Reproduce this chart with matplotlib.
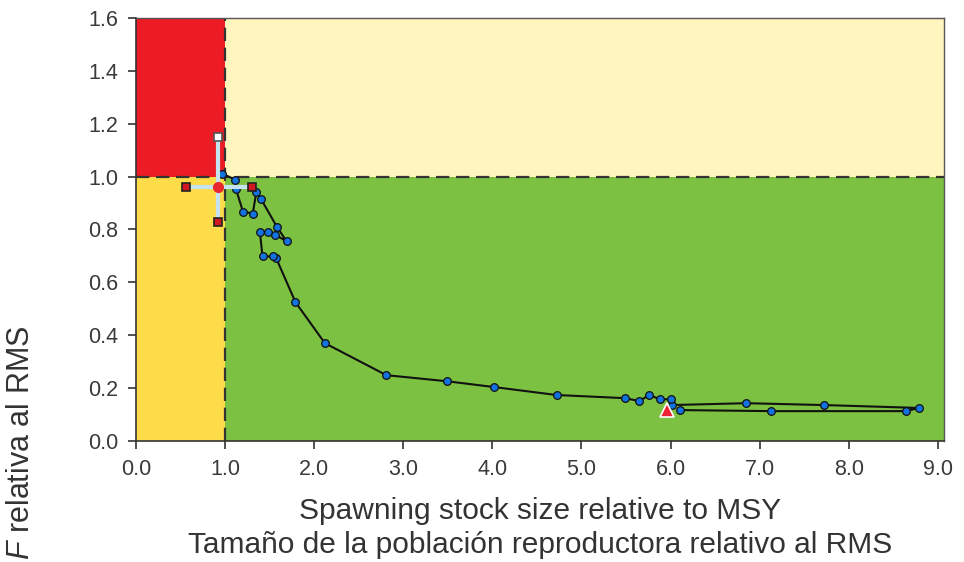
import matplotlib
import matplotlib.pyplot as plt

matplotlib.use("Agg")

plt.rcParams["font.family"] = ["Liberation Sans", "DejaVu Sans"]
plt.rcParams["mathtext.fontset"] = "custom"
plt.rcParams["mathtext.it"] = "Liberation Sans:italic"
plt.rcParams["mathtext.rm"] = "Liberation Sans"

# trajectory (spawning stock size / SSB_MSY, F / F_MSY)
ssb_ratio = [6.11, 7.13, 8.64, 8.79, 7.72, 6.85, 6.02, 6.00, 5.88, 5.76, 5.65,
             5.49, 4.72, 4.02, 3.49, 2.81, 2.12, 1.79, 1.57, 1.54, 1.42, 1.39,
             1.48, 1.56, 1.69, 1.58, 1.40, 1.35, 1.31, 1.20, 1.12, 1.11, 0.97]
f_ratio = [0.117, 0.113, 0.113, 0.125, 0.136, 0.143, 0.136, 0.158, 0.158, 0.174,
           0.151, 0.162, 0.174, 0.204, 0.226, 0.249, 0.370, 0.525, 0.694, 0.698,
           0.698, 0.792, 0.789, 0.781, 0.755, 0.811, 0.917, 0.940, 0.860, 0.868,
           0.955, 0.989, 1.011]

# first year marker
start_x, start_y = 5.96, 0.117

# terminal estimate with confidence limits
est_x, est_y = 0.92, 0.962
ci_x = [0.56, 1.30]
ci_y = [0.83, 1.151]

xmax, ymax = 9.07, 1.6
xticks = [0.0, 1.0, 2.0, 3.0, 4.0, 5.0, 6.0, 7.0, 8.0, 9.0]
yticks = [0.0, 0.2, 0.4, 0.6, 0.8, 1.0, 1.2, 1.4, 1.6]

fig = plt.figure(figsize=(9.64, 5.62), dpi=100)
ax = fig.add_axes([0.1411, 0.2153, 0.8382, 0.7527])

# quadrants
ax.axvspan(0, 1, ymin=0, ymax=1 / ymax, color="#fddc4a", lw=0, zorder=0)
ax.axvspan(1, xmax, ymin=0, ymax=1 / ymax, color="#7dc142", lw=0, zorder=0)
ax.axvspan(0, 1, ymin=1 / ymax, ymax=1, color="#ed1c24", lw=0, zorder=0)
ax.axvspan(1, xmax, ymin=1 / ymax, ymax=1, color="#fff5be", lw=0, zorder=0)
ax.axhline(1, color="#333333", lw=1.6, ls=(0, (6, 3)), zorder=1)
ax.axvline(1, color="#333333", lw=1.6, ls=(0, (6, 3)), zorder=1)

ax.plot(ssb_ratio, f_ratio, color="#111111", lw=1.5, marker="o", ms=5.5,
        mfc="#1272e0", mec="#111111", mew=0.9, zorder=3)

ax.plot([start_x], [start_y], marker="^", ms=10, mfc="#ee2233", mec="white",
        mew=1.2, ls="none", zorder=4)

ax.plot(ci_x, [est_y, est_y], color="#c5e3ef", lw=3, zorder=4)
ax.plot([est_x, est_x], ci_y, color="#c5e3ef", lw=3, zorder=4)
ax.plot(ci_x, [est_y, est_y], marker="s", ms=5.5, mfc="#d01820", mec="#222222",
        mew=1.2, ls="none", zorder=5)
ax.plot([est_x], [ci_y[0]], marker="s", ms=5.5, mfc="#d01820", mec="#222222",
        mew=1.2, ls="none", zorder=5)
ax.plot([est_x], [ci_y[1]], marker="s", ms=5.5, mfc="white", mec="#555555",
        mew=1.2, ls="none", zorder=5)
ax.plot([est_x], [est_y], marker="o", ms=8, mfc="#e8262b", mec="none",
        ls="none", zorder=6)

ax.set_xlim(0, xmax)
ax.set_ylim(0, ymax)
ax.set_xticks(xticks)
ax.set_yticks(yticks)
ax.set_xticklabels([f"{v:.1f}" for v in xticks])
ax.set_yticklabels([f"{v:.1f}" for v in yticks])
ax.tick_params(direction="out", length=6, width=1.2, color="#333333",
               labelsize=15.5, labelcolor="#3a3a3a", pad=7)
for side in ["left", "bottom"]:
    ax.spines[side].set_color("#333333")
    ax.spines[side].set_linewidth(1.2)
for side in ["top", "right"]:
    ax.spines[side].set_color("#555555")
    ax.spines[side].set_linewidth(1.0)

ax.set_xlabel("Spawning stock size relative to MSY\n"
              "Tamaño de la población reproductora relativo al RMS",
              fontsize=21.5, color="#333333", labelpad=12, linespacing=1.3)
fig.text(0.022, 0.004, r"$\it{F}$ relativa al RMS", rotation=90,
         ha="center", va="bottom", fontsize=22, color="#333333")

fig.savefig("out.png", dpi=100)
